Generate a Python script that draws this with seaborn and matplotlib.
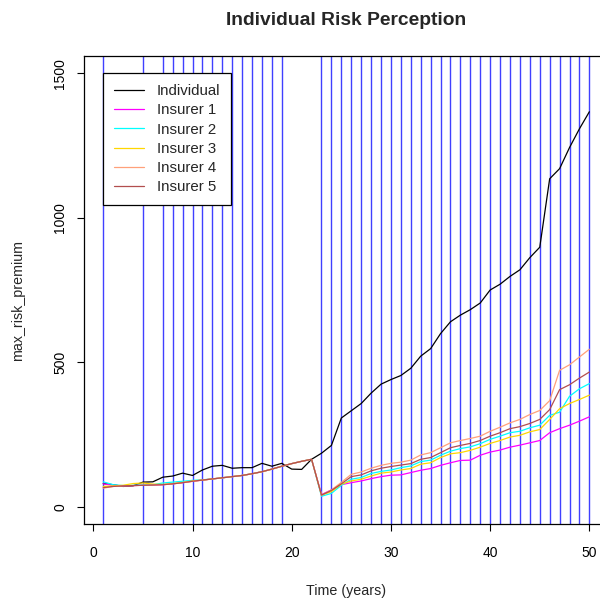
import matplotlib
matplotlib.use("Agg")
import matplotlib.pyplot as plt
from matplotlib.lines import Line2D
import seaborn as sns
import pandas as pd

# ---------------- data ----------------
years = list(range(1, 51))
event_years = [1, 5, 7, 8, 9, 10, 11, 12, 13, 14, 15, 16, 17, 18, 19] + list(range(23, 51))

individual = [80, 76, 70, 72, 85, 86, 102, 106, 116, 108, 127, 140, 143, 133, 135, 135, 150, 140, 150, 130,
              129, 164, 185, 212, 307, 332, 357, 393, 424, 440, 454, 479, 521, 547, 599, 640, 663, 682, 705, 750,
              770, 797, 820, 862, 898, 1135, 1170, 1243, 1308, 1367]

insurer1 = [79, 74, 72, 73, 74, 75, 76, 79, 83, 88, 92, 96, 100, 104, 108, 114, 121, 130, 140, 149,
            157, 164, 42, 58, 76, 83, 89, 97, 104, 109, 110, 118, 126, 132, 143, 152, 160, 161, 178, 189,
            196, 206, 213, 221, 229, 256, 270, 282, 296, 311]
insurer2 = [86, 76, 73, 74, 75, 76, 82, 85, 88, 91, 93, 96, 100, 104, 108, 114, 121, 130, 140, 149,
            157, 164, 36, 46, 74, 95, 101, 115, 122, 127, 135, 141, 156, 161, 178, 192, 201, 207, 218, 233,
            244, 256, 261, 273, 282, 316, 327, 382, 408, 426]
insurer3 = [70, 72, 74, 80, 82, 78, 77, 80, 84, 89, 92, 96, 100, 104, 108, 114, 121, 130, 140, 149,
            157, 164, 40, 52, 78, 89, 95, 106, 116, 120, 127, 132, 147, 152, 170, 183, 187, 195, 206, 219,
            229, 241, 247, 259, 267, 302, 339, 357, 371, 386]
insurer4 = [64, 70, 72, 73, 74, 75, 76, 79, 83, 88, 92, 96, 100, 104, 108, 114, 121, 130, 140, 149,
            157, 164, 40, 58, 84, 112, 120, 133, 143, 150, 154, 161, 179, 187, 204, 221, 229, 236, 244, 261,
            275, 290, 302, 319, 333, 367, 472, 491, 518, 545]
insurer5 = [66, 70, 72, 73, 74, 75, 76, 79, 83, 88, 92, 96, 100, 104, 108, 114, 121, 130, 140, 149,
            157, 164, 40, 56, 79, 104, 110, 124, 133, 139, 144, 149, 164, 170, 187, 204, 212, 219, 229, 244,
            256, 270, 277, 288, 302, 336, 405, 422, 445, 466]

series_names = ["Individual", "Insurer 1", "Insurer 2", "Insurer 3", "Insurer 4", "Insurer 5"]
series_values = [individual, insurer1, insurer2, insurer3, insurer4, insurer5]
colors = {"Individual": "#000000", "Insurer 1": "#FF00FF", "Insurer 2": "#00FFFF",
          "Insurer 3": "#FFD700", "Insurer 4": "#FFA07A", "Insurer 5": "#B24E4E"}

x_ticks = [0, 10, 20, 30, 40, 50]
y_ticks = [0, 500, 1000, 1500]

# ---------------- figure ----------------
sns.set_theme(style="white")
plt.rcParams["font.family"] = ["Liberation Sans", "DejaVu Sans"]

fig = plt.figure(figsize=(6.0, 6.04), dpi=100)
W, H = 600, 604
ax_left, ax_right, ax_top, ax_bottom = 83.8, 608.8, 56, 524
ax = fig.add_axes([ax_left / W, 1 - ax_bottom / H, (ax_right - ax_left) / W, (ax_bottom - ax_top) / H])

for yr in event_years:
    ax.axvline(yr, color="#4040ff", lw=1.0, zorder=1)

df = pd.DataFrame({
    "year": years * len(series_names),
    "value": [v for vals in series_values for v in vals],
    "series": [n for n in series_names for _ in years],
})
sns.lineplot(data=df, x="year", y="value", hue="series", hue_order=series_names,
             palette=colors, estimator=None, legend=False, linewidth=0.9, ax=ax, zorder=3)

ax.set_xlim(-0.96, 51.96)
ax.set_ylim(-60, 1560)
ax.set_xticks(x_ticks)
ax.set_yticks(y_ticks)
ax.set_xticklabels([str(t) for t in x_ticks])
ax.set_yticklabels([str(t) for t in y_ticks])

for sp in ax.spines.values():
    sp.set_color("black")
    sp.set_linewidth(0.9)

ax.tick_params(axis="both", direction="out", length=5, width=0.8, color="black",
               labelsize=10, labelcolor="black")
ax.tick_params(axis="x", pad=10.5, bottom=True)
ax.tick_params(axis="y", pad=7, left=True)
for lbl in ax.get_yticklabels():
    lbl.set_rotation(90)
    lbl.set_va("center")

ax.set_title("Individual Risk Perception", fontsize=13.9, fontweight="bold", pad=22)
ax.set_xlabel("Time (years)", fontsize=10.3)
ax.set_ylabel("max_risk_premium", fontsize=10.3)
ax.xaxis.set_label_coords(0.5, -0.129)
ax.yaxis.set_label_coords(-0.112, 0.4765)

handles = [Line2D([0], [0], color=colors[n], lw=0.9) for n in series_names]
leg = ax.legend(handles, series_names, loc="upper left",
                bbox_to_anchor=((103.3 - ax_left) / (ax_right - ax_left), (ax_bottom - 73.3) / (ax_bottom - ax_top)),
                borderaxespad=0, fontsize=10.8, frameon=True, fancybox=False, framealpha=1,
                edgecolor="black", handlelength=2.0, handletextpad=0.85, labelspacing=0.35,
                borderpad=0.72)
leg.get_frame().set_linewidth(0.9)
leg.set_zorder(5)

fig.savefig("out.png", dpi=100)
